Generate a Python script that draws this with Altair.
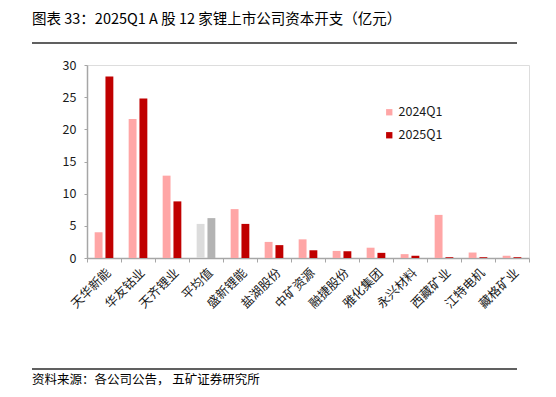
import altair as alt
import pandas as pd

companies = ["天华新能", "华友钴业", "天齐锂业", "平均值", "盛新锂能", "盐湖股份", "中矿资源",
             "融捷股份", "雅化集团", "永兴材料", "西藏矿业", "江特电机", "藏格矿业"]
v2024 = [4.0, 21.6, 12.8, 5.3, 7.6, 2.5, 2.9, 1.1, 1.6, 0.6, 6.7, 0.85, 0.35]
v2025 = [28.2, 24.8, 8.8, 6.2, 5.3, 2.0, 1.2, 1.05, 0.8, 0.35, 0.12, 0.12, 0.12]
series = ["2024Q1", "2025Q1"]

title_text = "图表 33：2025Q1 A 股 12 家锂上市公司资本开支（亿元）"
source_text = "资料来源：各公司公告， 五矿证券研究所"

rows = []
for i, c in enumerate(companies):
    for s, vals in zip(series, [v2024, v2025]):
        key = ("平均值" + s) if c == "平均值" else s
        rows.append({"company": c, "series": s, "value": vals[i], "ckey": key})
df = pd.DataFrame(rows)

FONT = "Noto Sans CJK SC"

bars = alt.Chart(df).mark_bar().encode(
    x=alt.X("company:N", sort=companies, title=None,
            scale=alt.Scale(paddingInner=0, paddingOuter=0),
            axis=alt.Axis(labelAngle=-45, labelFontSize=12.5, labelColor="#1a1a1a",
                          labelFont=FONT, domainColor="#a6a6a6", tickColor="#a6a6a6",
                          tickSize=4, tickBand="extent", labelPadding=4, domainWidth=1.5)),
    xOffset=alt.XOffset("series:N", sort=series,
                        scale=alt.Scale(paddingInner=0.27, paddingOuter=0.71)),
    y=alt.Y("value:Q", title=None,
            scale=alt.Scale(domain=[0, 30], nice=False),
            axis=alt.Axis(values=[0, 5, 10, 15, 20, 25, 30], grid=False, labelFontSize=12.5,
                          labelColor="#1a1a1a", labelFont=FONT, domainColor="#a6a6a6",
                          tickColor="#a6a6a6", tickSize=3, labelPadding=8, domainWidth=1.5)),
    color=alt.Color("ckey:N",
                    scale=alt.Scale(domain=["2024Q1", "2025Q1", "平均值2024Q1", "平均值2025Q1"],
                                    range=["#ffa6a6", "#c00000", "#dcdcdc", "#b3b3b3"]),
                    legend=alt.Legend(values=["2024Q1", "2025Q1"], title=None, orient="none",
                                      legendX=296, legendY=41, symbolType="square",
                                      symbolSize=40, labelFontSize=12.5, labelFont=FONT,
                                      labelColor="#1a1a1a", rowPadding=10, labelOffset=3,
                                      padding=0, symbolStrokeWidth=0)),
)

one = pd.DataFrame({"a": [0]})
deco = alt.Chart(one)
title = deco.mark_text(text=title_text, align="left", baseline="middle", fontSize=14.5,
                       font=FONT, color="#000000").encode(x=alt.value(-55), y=alt.value(-45))
top_rule = deco.mark_rule(color="#2b2b2b", strokeWidth=1.5).encode(
    x=alt.value(-55), x2=alt.value(430), y=alt.value(-22))
bot_rule = deco.mark_rule(color="#2b2b2b", strokeWidth=1.5).encode(
    x=alt.value(-55), x2=alt.value(430), y=alt.value(304))
source = deco.mark_text(text=source_text, align="left", baseline="middle", fontSize=12.5,
                        font=FONT, color="#000000").encode(x=alt.value(-55), y=alt.value(315))

chart = alt.layer(bars, top_rule, bot_rule, title, source).properties(
    width=442, height=193,
    autosize=alt.AutoSizeParams(type="none"),
    padding={"left": 79, "top": 57, "right": 10, "bottom": 131},
).configure_view(stroke=None).configure(background="white")

chart.save("out.html", embed_options={"renderer": "svg", "actions": False})
